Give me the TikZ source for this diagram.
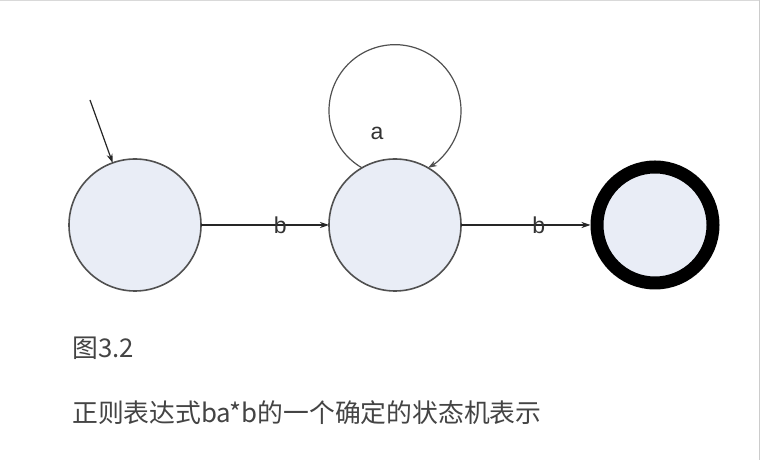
\documentclass[tikz,border=0pt]{standalone}
\usepackage{fontspec}
\setmainfont{Liberation Sans}
\newfontfamily\cjk{Noto Sans CJK SC}
\usetikzlibrary{arrows.meta}
\definecolor{statefill}{HTML}{E9EDF6}
\definecolor{statedraw}{HTML}{505050}
\definecolor{txt}{HTML}{444444}
\tikzset{
  state/.style={circle,draw=statedraw,line width=1.6pt,fill=statefill,minimum size=132pt,inner sep=0pt,outer sep=0pt},
  acceptstate/.style={circle,draw=black,line width=13pt,fill=statefill,minimum size=116pt,inner sep=0pt,outer sep=6.5pt},
  trans/.style={draw=black!85,line width=1.2pt,-{Stealth[length=9pt,width=6pt]}},
  lbl/.style={font=\fontsize{23}{26}\selectfont,text=black!80,inner sep=1pt},
  caption/.style={font=\cjk\fontsize{25.8}{30}\selectfont,text=txt,anchor=west,inner sep=0pt}
}
\begin{document}
\begin{tikzpicture}[x=1pt,y=1pt]
\useasboundingbox (0,0) rectangle (760,460);
\fill[white] (0,0) rectangle (760,460);
\draw[black!15,line width=1pt] (0,459.5) -- (760,459.5);
\draw[black!20,line width=1pt] (759.5,0) -- (759.5,460);
\node[state] (s0) at (135,235) {};
\node[state] (s1) at (395,235) {};
\node[acceptstate] (s2) at (655,235) {};
\coordinate (init) at (90,360);
\draw[trans] (init) -- (s0);
\draw[trans] (s0) -- node[lbl,pos=0.62] {b} (s1);
\draw[trans] (s1) -- node[lbl,pos=0.6] {b} (s2);
\draw[trans,draw=statedraw] (s1.120) arc[start angle=240,end angle=-60,radius=66pt];
\node[lbl] (la) at (377,327) {a};
\node[caption] (c1) at (72,112) {图3.2};
\node[caption] (c2) at (72,47) {正则表达式ba*b的一个确定的状态机表示};
\end{tikzpicture}
\end{document}
